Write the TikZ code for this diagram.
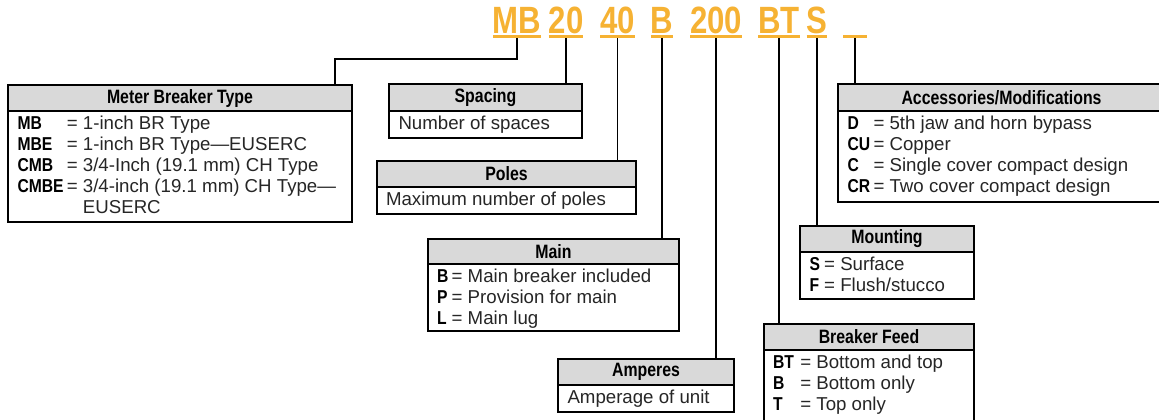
\documentclass[tikz,border=0pt]{standalone}
\usepackage{fontspec}
\setmainfont{Liberation Sans}
\newfontfamily\condbold{Liberation Sans Bold}[FakeStretch=0.82]
\newfontfamily\lblbold{Liberation Sans Bold}[FakeStretch=0.84]
\newfontfamily\codefont{Liberation Sans Bold}[FakeStretch=0.82]
\usetikzlibrary{calc}
\definecolor{codeorange}{RGB}{246,178,51}
\definecolor{hdrgray}{RGB}{217,217,217}
\definecolor{bodytxt}{RGB}{38,38,38}
\newcommand{\keylbl}[2]{\makebox[#1][l]{\lblbold\fontsize{14}{15.75}\selectfont\color{black}#2}}
\tikzset{
  code/.style={font=\codefont\fontsize{28.5}{30}\selectfont, text=codeorange, inner sep=0pt, outer sep=0pt, anchor=base},
  uline/.style={draw=codeorange, line width=2pt},
  conn/.style={draw=black, line width=1.4pt},
  hdr/.style={draw=black, line width=0.8pt, fill=hdrgray, inner sep=0pt, outer sep=0pt, anchor=north west, font=\condbold\fontsize{14.5}{15}\selectfont, text=black},
  bodybox/.style={draw=black, line width=0.8pt, inner sep=0pt, outer sep=0pt, anchor=north west},
  bodytext/.style={inner sep=0pt, outer sep=0pt, anchor=base west, text=bodytxt, font=\fontsize{14}{15.75}\selectfont}
}
\begin{document}
\begin{tikzpicture}[x=0.75pt,y=-0.75pt]
\useasboundingbox (0,0) rectangle (1159,419);
\clip (0,0) rectangle (1159,419);
\fill[white] (0,0) rectangle (1159,419);

% ---- code letters ----
\node[code] (cMB) at (517,33) {MB};
\node[code] (c20) at (566,33) {20};
\node[code] (c40) at (617.5,33) {40};
\node[code] (cB) at (662,33) {B};
\node[code] (c200) at (716,33) {200};
\node[code] (cBT) at (779,33) {BT};
\node[code] (cS) at (817,33) {S};
\node[code, minimum width=18pt] (cX) at (855,33) {};
\foreach \c in {cMB,c20,c40,cB,c200,cBT,cS,cX}{
  \draw[uline] ($(\c.base west)+(0,3.5)$) -- ($(\c.base east)+(0,3.5)$);
}

% ---- boxes ----
% Meter Breaker Type
\node[hdr, minimum width=258pt, minimum height=19.5pt] (hMBT) at (8,85) {Meter Breaker Type};
\node[bodybox, minimum width=258pt, minimum height=83.25pt] (bMBT) at (8,111) {};
\node[bodytext] (tMBT) at (17.5,129.5) {\begin{tabular}[t]{@{}l@{}}
\keylbl{37pt}{MB}= 1-inch BR Type\\
\keylbl{37pt}{MBE}= 1-inch BR Type—EUSERC\\
\keylbl{37pt}{CMB}= 3/4-Inch (19.1 mm) CH Type\\
\keylbl{37pt}{CMBE}= 3/4-inch (19.1 mm) CH Type—\\
\hspace*{37pt}\phantom{= }EUSERC
\end{tabular}};

% Spacing
\node[hdr, minimum width=144.75pt, minimum height=20.25pt] (hSp) at (389,84) {Spacing};
\node[bodybox, minimum width=144.75pt, minimum height=20.25pt] (bSp) at (389,111) {};
\node[bodytext] (tSp) at (398.5,129.5) {Number of spaces};

% Poles
\node[hdr, minimum width=194.25pt, minimum height=19.5pt] (hPo) at (377,161) {Poles};
\node[bodybox, minimum width=194.25pt, minimum height=20.25pt] (bPo) at (377,187) {};
\node[bodytext] (tPo) at (386,205.5) {Maximum number of poles};

% Main
\node[hdr, minimum width=188.25pt, minimum height=18.75pt] (hMa) at (428,239) {Main};
\node[bodybox, minimum width=188.25pt, minimum height=50.25pt] (bMa) at (428,264) {};
\node[bodytext] (tMa) at (437,282.5) {\begin{tabular}[t]{@{}l@{}}
\keylbl{11pt}{B}= Main breaker included\\
\keylbl{11pt}{P}= Provision for main\\
\keylbl{11pt}{L}= Main lug
\end{tabular}};

% Amperes
\node[hdr, minimum width=132pt, minimum height=19.5pt] (hAm) at (558,359) {Amperes};
\node[bodybox, minimum width=132pt, minimum height=20.25pt] (bAm) at (558,385) {};
\node[bodytext] (tAm) at (567.5,403.5) {Amperage of unit};

% Accessories/Modifications
\node[hdr, minimum width=245.25pt, minimum height=20.25pt] (hAc) at (838,84) {Accessories/Modifications};
\node[bodybox, minimum width=245.25pt, minimum height=68.25pt] (bAc) at (838,111) {};
\node[bodytext] (tAc) at (847.5,129) {\begin{tabular}[t]{@{}l@{}}
\keylbl{19.5pt}{D}= 5th jaw and horn bypass\\
\keylbl{19.5pt}{CU}= Copper\\
\keylbl{19.5pt}{C}= Single cover compact design\\
\keylbl{19.5pt}{CR}= Two cover compact design
\end{tabular}};

% Mounting
\node[hdr, minimum width=130.5pt, minimum height=19.5pt] (hMo) at (800,226) {Mounting};
\node[bodybox, minimum width=130.5pt, minimum height=35.25pt] (bMo) at (800,252) {};
\node[bodytext] (tMo) at (809.5,270) {\begin{tabular}[t]{@{}l@{}}
\keylbl{11pt}{S}= Surface\\
\keylbl{11pt}{F}= Flush/stucco
\end{tabular}};

% Breaker Feed
\node[hdr, minimum width=157.5pt, minimum height=19.5pt] (hBF) at (764,324) {Breaker Feed};
\node[bodybox, minimum width=157.5pt, minimum height=56.25pt] (bBF) at (764,350) {};
\node[bodytext] (tBF) at (773,368.5) {\begin{tabular}[t]{@{}l@{}}
\keylbl{20.5pt}{BT}= Bottom and top\\
\keylbl{20.5pt}{B}= Bottom only\\
\keylbl{20.5pt}{T}= Top only
\end{tabular}};

% ---- connectors ----
\coordinate (jMB) at (335,59);
\draw[conn] ($(cMB.base)+(0,4.8)$) |- (jMB) -- (jMB |- hMBT.north);
\draw[conn] ($(c20.base)+(0,4.8)$) -- (c20.base |- hSp.north);
\draw[conn] ($(c40.base)+(0,4.8)$) -- (c40.base |- hPo.north);
\draw[conn] ($(cB.base)+(0,4.8)$) -- (cB.base |- hMa.north);
\draw[conn] ($(c200.base)+(0,4.8)$) -- (c200.base |- hAm.north);
\draw[conn] ($(cBT.base)+(0,4.8)$) -- (cBT.base |- hBF.north);
\draw[conn] ($(cS.base)+(0,4.8)$) -- (cS.base |- hMo.north);
\draw[conn] ($(cX.base)+(0,4.8)$) -- (cX.base |- hAc.north);
\end{tikzpicture}
\end{document}
